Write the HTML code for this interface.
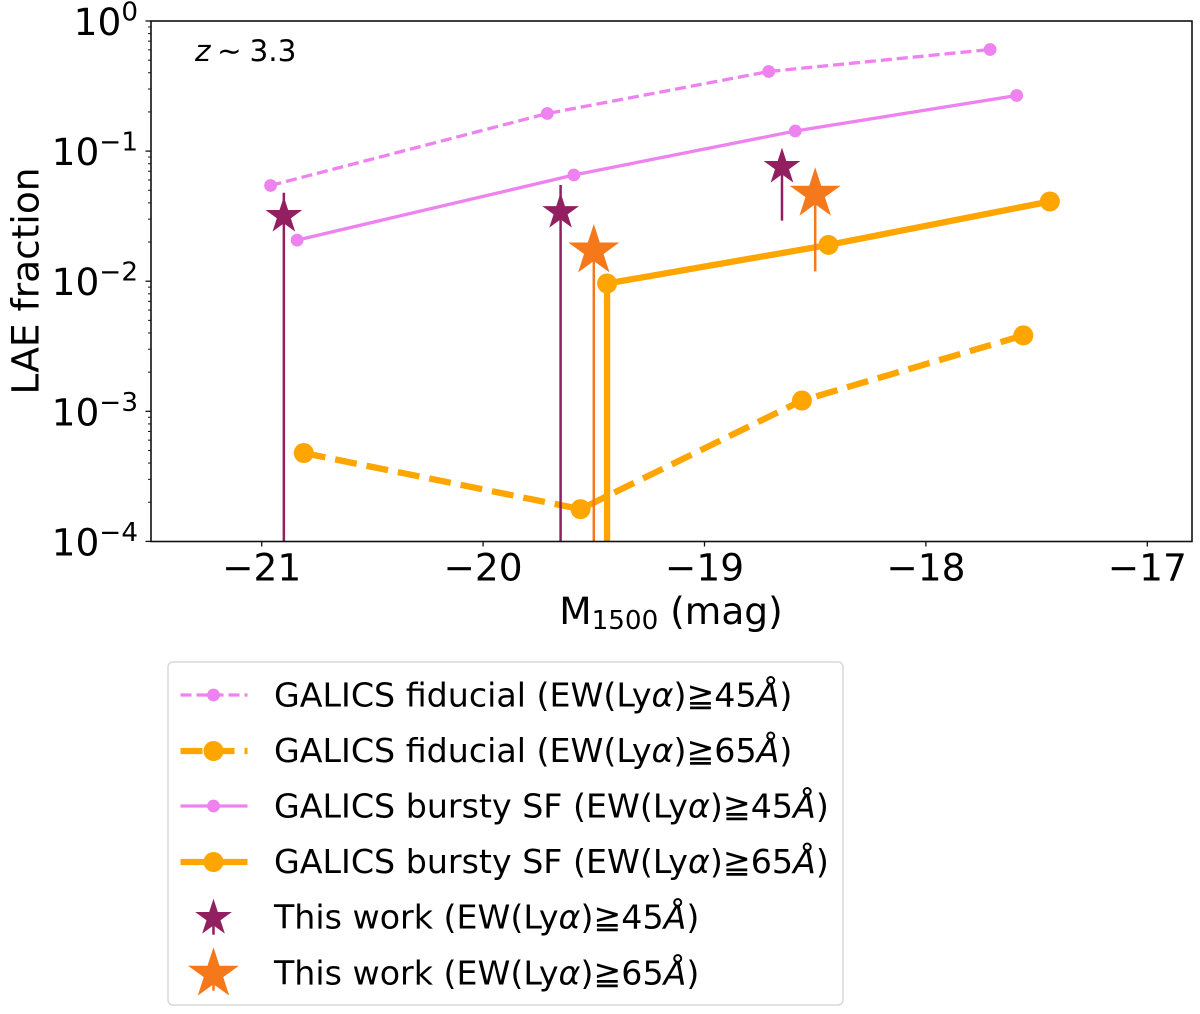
<!DOCTYPE html>
<html lang="en">
<head>
<meta charset="utf-8">
<title>LAE fraction versus M1500</title>
<style>
html,body{margin:0;padding:0;background:#fff;width:1200px;height:1014px;overflow:hidden}
svg{display:block}
text{font-family:"DejaVu Sans",sans-serif;fill:#000}
</style>
</head>
<body>
<svg id="chart" xmlns="http://www.w3.org/2000/svg" width="1200" height="1014" viewBox="0 0 1200 1014">
  <defs><clipPath id="plot-clip"><rect x="151" y="21" width="1041" height="520.5"/></clipPath></defs>
  <rect x="151" y="21" width="1041" height="520.5" fill="#fff"/>
  <g id="series-layer" clip-path="url(#plot-clip)"></g>
  <g id="axes-layer"></g>
  <text y="61" font-size="29.5"><tspan x="195" font-style="italic">z</tspan><tspan x="217">∼</tspan><tspan x="249.5">3.3</tspan></text>
  <text transform="translate(38.5 281) rotate(-90)" text-anchor="middle" font-size="37.5">LAE fraction</text>
  <text x="671" y="624" text-anchor="middle" font-size="37.5">M<tspan font-size="26.2" dy="5">1500</tspan><tspan dy="-5"> (mag)</tspan></text>
  <rect x="168" y="662" width="675" height="343" rx="5" fill="#fff" stroke="#d9d9d9" stroke-width="1.5"/>
  <g id="legend-layer"></g>
</svg>
<script>
// Data
const fiducial45X = [-20.96, -19.71, -18.71, -17.71];
const fiducial45Y = [0.0544, 0.1945, 0.409, 0.604];
const fiducial65X = [-20.81, -19.56, -18.56, -17.56];
const fiducial65Y = [0.000478, 0.000177, 0.00121, 0.00383];
const bursty45X = [-20.84, -19.59, -18.59, -17.59];
const bursty45Y = [0.0207, 0.0655, 0.1427, 0.2675];
const bursty65X = [-19.44, -19.44, -18.44, -17.44];
const bursty65Y = [0.000001, 0.0096, 0.019, 0.041];
const work45X = [-20.90, -19.65, -18.65];
const work45Y = [0.0317, 0.034, 0.0755];
const work45Low = [0.00001, 0.00001, 0.0292];
const work45High = [0.0479, 0.0549, 0.09];
const work65X = [-19.50, -18.50];
const work65Y = [0.01713, 0.0468];
const work65Low = [0.00001, 0.0119];
const work65High = [0.024, 0.063];
const xTickValues = [-21, -20, -19, -18, -17];
const yTickExponents = [0, -1, -2, -3, -4];
const yMinorFactors = [2, 3, 4, 5, 6, 7, 8, 9];
const legendLabels = [
  ["GALICS fiducial", "45"],
  ["GALICS fiducial", "65"],
  ["GALICS bursty SF", "45"],
  ["GALICS bursty SF", "65"],
  ["This work", "45"],
  ["This work", "65"]
];

const NS = "http://www.w3.org/2000/svg";
const VIOLET = "#ee82ee", ORANGE = "#ffa500", PURPLE = "#922060", STAR_ORANGE = "#f5791a";
const seriesLayer = document.getElementById("series-layer");
const axesLayer = document.getElementById("axes-layer");
const legendLayer = document.getElementById("legend-layer");

function xScale(v) { return 261.7 + (v + 21) * 221.4; }
function yScale(v) { return 21 - Math.log10(v) * 130.1; }

function svgEl(tag, parent) {
  const el = document.createElementNS(NS, tag);
  parent.appendChild(el);
  return el;
}
function starPoints(cx, cy, R) {
  const pts = [], r = R * 0.381966;
  for (let i = 0; i < 10; i++) {
    const a = -Math.PI / 2 + i * Math.PI / 5, q = i % 2 ? r : R;
    pts.push((cx + q * Math.cos(a)).toFixed(2) + "," + (cy + q * Math.sin(a)).toFixed(2));
  }
  return pts.join(" ");
}
function styleStroke(el, color, width, dash) {
  el.setAttribute("fill", "none");
  el.setAttribute("stroke", color);
  el.setAttribute("stroke-width", width);
  if (dash) el.setAttribute("stroke-dasharray", dash);
}
function drawSeries(name, xs, ys, color, width, dash, radius) {
  const group = svgEl("g", seriesLayer);
  
  
  const line = svgEl("polyline", group);
  
  
  line.setAttribute("points", xs.map((x, i) => xScale(x).toFixed(2) + "," + yScale(ys[i]).toFixed(2)).join(" "));
  styleStroke(line, color, width, dash);
  xs.forEach((x, i) => {
    const dot = svgEl("circle", group);
    
    
    dot.setAttribute("cx", xScale(x));
    dot.setAttribute("cy", yScale(ys[i]));
    dot.setAttribute("r", radius);
    dot.setAttribute("fill", color);
  });
}
function drawStars(name, xs, ys, lows, highs, color, radius, width) {
  xs.forEach((x, i) => {
    const bar = svgEl("line", seriesLayer);
    
    
    bar.setAttribute("x1", xScale(x));
    bar.setAttribute("x2", xScale(x));
    bar.setAttribute("y1", yScale(lows[i]));
    bar.setAttribute("y2", yScale(highs[i]));
    styleStroke(bar, color, width);
  });
  xs.forEach((x, i) => {
    const star = svgEl("polygon", seriesLayer);
    
    
    star.setAttribute("points", starPoints(xScale(x), yScale(ys[i]), radius));
    star.setAttribute("fill", color);
  });
}

drawSeries("galics-fiducial-45", fiducial45X, fiducial45Y, VIOLET, 3.3, "11 5", 6.4);
drawSeries("galics-fiducial-65", fiducial65X, fiducial65Y, ORANGE, 6.3, "22 10", 10);
drawSeries("galics-bursty-45", bursty45X, bursty45Y, VIOLET, 3.3, "", 6.4);
drawSeries("galics-bursty-65", bursty65X, bursty65Y, ORANGE, 6.3, "", 10);
drawStars("this-work-45", work45X, work45Y, work45Low, work45High, PURPLE, 19.3, 2.5);
drawStars("this-work-65", work65X, work65Y, work65Low, work65High, STAR_ORANGE, 26.8, 2.5);

// Axes
const frame = svgEl("rect", axesLayer);


frame.setAttribute("x", 151);
frame.setAttribute("y", 21);
frame.setAttribute("width", 1041);
frame.setAttribute("height", 520.5);
styleStroke(frame, "#111", 1.6);

xTickValues.forEach(v => {
  const x = xScale(v);
  const tick = svgEl("line", axesLayer);
  
  
  tick.setAttribute("x1", x);
  tick.setAttribute("x2", x);
  tick.setAttribute("y1", 541.5);
  tick.setAttribute("y2", 546.5);
  styleStroke(tick, "#111", 1.3);
  const label = svgEl("text", axesLayer);
  
  
  label.setAttribute("x", x);
  label.setAttribute("y", 580.5);
  label.setAttribute("text-anchor", "middle");
  label.setAttribute("font-size", 37.5);
  label.textContent = "\u2212" + Math.abs(v);
});

yTickExponents.forEach(e => {
  const value = Math.pow(10, e);
  const y = yScale(value);
  const tick = svgEl("line", axesLayer);
  
  
  tick.setAttribute("x1", 145.5);
  tick.setAttribute("x2", 151);
  tick.setAttribute("y1", y);
  tick.setAttribute("y2", y);
  styleStroke(tick, "#111", 1.3);
  const label = svgEl("text", axesLayer);
  
  
  label.setAttribute("x", 138);
  label.setAttribute("y", y + 14);
  label.setAttribute("text-anchor", "end");
  label.setAttribute("font-size", 37.5);
  label.appendChild(document.createTextNode("10"));
  const sup = svgEl("tspan", label);
  sup.setAttribute("font-size", 26.2);
  sup.setAttribute("dy", -14.5);
  sup.textContent = e === 0 ? "0" : "\u2212" + Math.abs(e);
  if (e > -4) {
    yMinorFactors.forEach(f => {
      const my = yScale(value * f / 10);
      const minor = svgEl("line", axesLayer);
      
      
      minor.setAttribute("x1", 148);
      minor.setAttribute("x2", 151);
      minor.setAttribute("y1", my);
      minor.setAttribute("y2", my);
      styleStroke(minor, "#111", 1);
    });
  }
});

// Legend
const legendRowY = [695, 751, 806, 862, 918, 974];
const legendBaseline = [706.7, 762, 817.3, 873, 928.5, 984.5];
const legendStyles = [
  { color: VIOLET, width: 3.3, dash: "11 5", r: 6.4 },
  { color: ORANGE, width: 6.3, dash: "22 10", r: 10 },
  { color: VIOLET, width: 3.3, dash: "", r: 6.4 },
  { color: ORANGE, width: 6.3, dash: "", r: 10 },
  { color: PURPLE, star: 19.3 },
  { color: STAR_ORANGE, star: 26.8 }
];
legendLabels.forEach((entry, i) => {
  const s = legendStyles[i], cy = legendRowY[i];
  const row = svgEl("g", legendLayer);
  
  
  if (s.star) {
    const stub = svgEl("line", row);
    
    
    stub.setAttribute("x1", 213.5);
    stub.setAttribute("x2", 213.5);
    stub.setAttribute("y1", cy);
    stub.setAttribute("y2", cy + 16.7);
    styleStroke(stub, s.color, 2.5);
    const star = svgEl("polygon", row);
    
    
    star.setAttribute("points", starPoints(213.5, cy, s.star));
    star.setAttribute("fill", s.color);
  } else {
    const handle = svgEl("line", row);
    
    
    handle.setAttribute("x1", 180.5);
    handle.setAttribute("x2", 247.5);
    handle.setAttribute("y1", cy);
    handle.setAttribute("y2", cy);
    styleStroke(handle, s.color, s.width, s.dash);
    const dot = svgEl("circle", row);
    
    
    dot.setAttribute("cx", 213.5);
    dot.setAttribute("cy", cy);
    dot.setAttribute("r", s.r);
    dot.setAttribute("fill", s.color);
  }
  const label = svgEl("text", row);
  
  
  label.setAttribute("x", 274);
  label.setAttribute("y", legendBaseline[i]);
  label.setAttribute("font-size", 33.25);
  label.appendChild(document.createTextNode(entry[0] + " (EW(Ly"));
  const alpha = svgEl("tspan", label);
  alpha.setAttribute("font-style", "italic");
  alpha.textContent = "\u03b1";
  label.appendChild(document.createTextNode(")\u2267" + entry[1]));
  const angstrom = svgEl("tspan", label);
  angstrom.setAttribute("font-style", "italic");
  angstrom.textContent = "\u00c5";
  label.appendChild(document.createTextNode(")"));
});
</script>
</body>
</html>
